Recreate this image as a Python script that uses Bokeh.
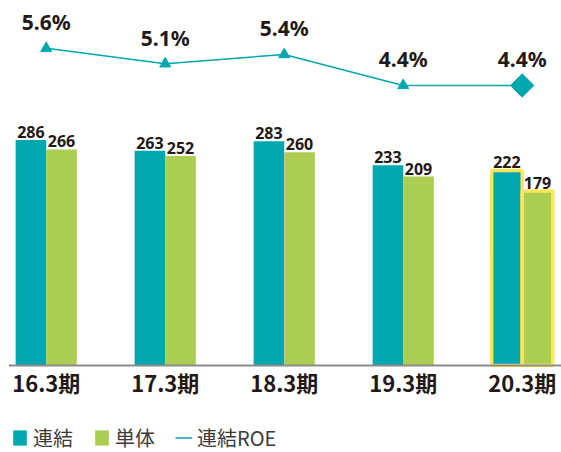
import math
from bokeh.plotting import figure
from bokeh.models import (ColumnDataSource, Range1d, FixedTicker, Legend, LegendItem,
                          CDSView, IndexFilter)
from bokeh.transform import dodge
from bokeh.core.properties import value
from bokeh.embed import file_html
from bokeh.resources import INLINE

# ---- data ----
periods = ["16.3期", "17.3期", "18.3期", "19.3期", "20.3期"]
consolidated = [286, 263, 283, 233, 222]   # 連結
standalone = [266, 252, 260, 209, 179]     # 単体
roe = [5.6, 5.1, 5.4, 4.4, 4.4]            # 連結ROE (%)
highlight = [0, 0, 0, 0, 1]                # latest period framed

# ---- styles ----
TEAL = "#00A7AF"
GREEN = "#ABCD52"
YELLOW = "#FFE65C"
DARK = "#231815"
LEGEND_TXT = "#3E3A39"
AXIS_GREY = "#8C8C8C"

BAR_BASE = -187
BAR_W = 0.257
OFF = 0.1285

xs = list(range(len(periods)))
src = ColumnDataSource(dict(
    x=xs,
    cons=consolidated,
    single=standalone,
    roe=roe,
    hl=highlight,
    cons_lbl=[str(v) for v in consolidated],
    single_lbl=[str(v) for v in standalone],
    roe_lbl=[f"{v}%" for v in roe],
))

p = figure(width=561, height=452, output_backend="svg", toolbar_location=None,
           x_range=Range1d(-0.317, 4.33), y_range=Range1d(-369.4, 578.2),
           min_border_left=8, min_border_right=0, min_border_top=0,
           min_border_bottom=0, y_axis_location=None)
p.outline_line_color = None
p.grid.visible = False
p.extra_y_ranges = {"roe": Range1d(-7.455, 7.144)}

r_cons = p.vbar(x=dodge("x", -OFF), top="cons", bottom=BAR_BASE, width=BAR_W,
                source=src, fill_color=TEAL, line_color=YELLOW,
                line_alpha="hl", line_width=3.5)
r_single = p.vbar(x=dodge("x", OFF), top="single", bottom=BAR_BASE, width=BAR_W,
                  source=src, fill_color=GREEN, line_color=YELLOW,
                  line_alpha="hl", line_width=3.5)

lbl_kw = dict(source=src, text_align="center", text_baseline="alphabetic",
              text_font=value("Noto Sans"), text_font_style="bold",
              text_font_size="16px", text_color=DARK, y_offset=-8)
p.text(x=dodge("x", -OFF), y="cons", text="cons_lbl", **lbl_kw)
p.text(x=dodge("x", OFF), y="single", text="single_lbl", **lbl_kw)

r_line = p.line(x="x", y="roe", y_range_name="roe", source=src,
                line_color=TEAL, line_width=1.5)
p.scatter(x="x", y="roe", y_range_name="roe", source=src,
          view=CDSView(filter=IndexFilter([0, 1, 2, 3])),
          marker="triangle", size=11, fill_color=TEAL, line_color=TEAL)
p.scatter(x="x", y="roe", y_range_name="roe", source=src,
          view=CDSView(filter=IndexFilter([4])),
          marker="square", angle=math.pi / 4, size=16.5,
          fill_color=TEAL, line_color=TEAL)
p.text(x="x", y="roe", text="roe_lbl", y_range_name="roe", source=src,
       text_align="center", text_baseline="alphabetic", y_offset=-26,
       text_font=value("Noto Sans"), text_font_style="bold",
       text_font_size="21px", text_color=DARK)

ax = p.xaxis[0]
ax.fixed_location = BAR_BASE
ax.ticker = FixedTicker(ticks=xs)
ax.major_label_overrides = {i: s for i, s in zip(xs, periods)}
ax.axis_line_color = AXIS_GREY
ax.axis_line_width = 2
ax.major_tick_line_color = None
ax.minor_tick_line_color = None
ax.major_tick_out = 0
ax.major_tick_in = 0
ax.major_label_standoff = 1
ax.major_label_text_font = "Noto Sans CJK JP"
ax.major_label_text_font_style = "bold"
ax.major_label_text_font_size = "22px"
ax.major_label_text_color = DARK

legend = Legend(items=[
    LegendItem(label="連結", renderers=[r_cons], index=0),
    LegendItem(label="単体", renderers=[r_single], index=0),
    LegendItem(label="連結ROE", renderers=[r_line]),
], orientation="horizontal", location=(3, 0), glyph_width=17, glyph_height=19,
    label_standoff=5, spacing=20, padding=0, margin=0,
    border_line_color=None, background_fill_alpha=0,
    label_text_font="Noto Sans CJK JP", label_text_font_size="20px",
    label_text_color=LEGEND_TXT)
p.add_layout(legend, "center")

open("out.html", "w").write(file_html(p, INLINE))
